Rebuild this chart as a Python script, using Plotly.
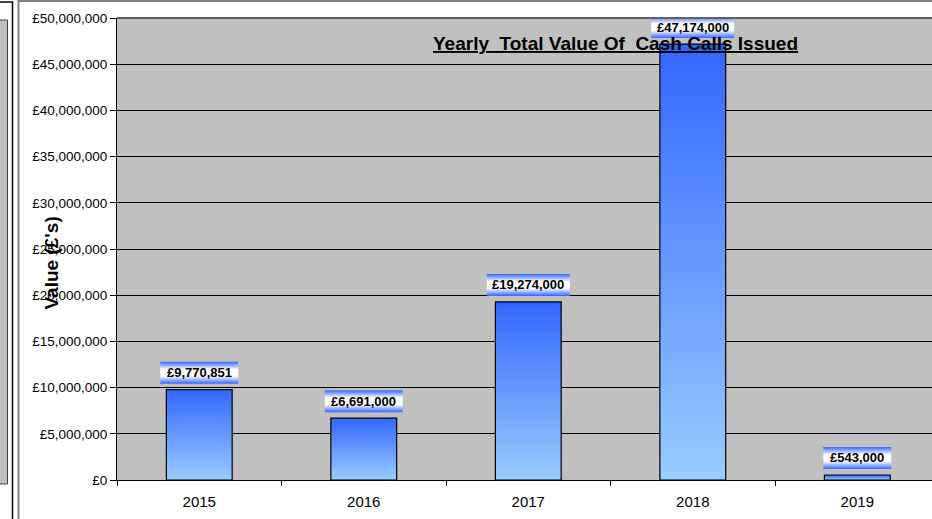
import plotly.graph_objects as go

years = ["2015", "2016", "2017", "2018", "2019"]
values = [9770851, 6691000, 19274000, 47174000, 543000]
labels = ["£9,770,851", "£6,691,000", "£19,274,000", "£47,174,000", "£543,000"]
title_text = "Yearly  Total Value Of  Cash Calls Issued"
y_title = "Value (£'s)"

W, H = 932, 519
ML, MR, MT, MB = 117, 0, 18, 39
PW, PH = W - ML - MR, H - MT - MB
YMAX = 50_000_000
XR = [-0.5, 4.454]
cat_px = PW / (XR[1] - XR[0])
unit_per_px = YMAX / PH

FONT = "Arial, Liberation Sans, sans-serif"

def px(x):
    return (x - ML) / PW

def py(y):
    return (H - MB - y) / PH

fig = go.Figure()

bar_half = 0.2
for i, v in enumerate(values):
    fig.add_trace(go.Scatter(
        x=[i - bar_half, i + bar_half, i + bar_half, i - bar_half, i - bar_half],
        y=[0, 0, v, v, 0],
        mode="lines", fill="toself",
        line=dict(color="black", width=1.2),
        fillgradient=dict(type="vertical",
                          colorscale=[[0, "#99CCFF"], [1, "#3366FF"]]),
        hoverinfo="skip", showlegend=False,
    ))

# label boxes
for i, (v, t) in enumerate(zip(values, labels)):
    wpx = 5 * len(t) + 28
    hw = wpx / 2 / cat_px
    b = v + 6 * unit_per_px
    top = b + 22 * unit_per_px
    fig.add_trace(go.Scatter(
        x=[i - hw, i + hw, i + hw, i - hw, i - hw],
        y=[b, b, top, top, b],
        mode="lines", fill="toself",
        line=dict(width=0, color="rgba(0,0,0,0)"),
        fillgradient=dict(type="vertical",
                          colorscale=[[0, "#3366FF"], [0.35, "#FFFFFF"],
                                      [0.65, "#FFFFFF"], [1, "#3366FF"]]),
        hoverinfo="skip", showlegend=False, cliponaxis=False,
    ))
    fig.add_annotation(x=i, y=(b + top) / 2, xref="x", yref="y",
                       text="<b>%s</b>" % t, showarrow=False,
                       font=dict(family=FONT, size=13, color="black"))

fig.add_annotation(x=px(615), y=py(31), xref="paper", yref="paper",
                   text="<b><u>%s</u></b>" % title_text, showarrow=False,
                   font=dict(family=FONT, size=19, color="black"))
fig.add_annotation(x=px(38), y=py(263), xref="paper", yref="paper",
                   text="<b>%s</b>" % y_title, showarrow=False, textangle=-90,
                   font=dict(family=FONT, size=19, color="black"))

shapes = [
    # left remnant chart
    dict(type="rect", xref="paper", yref="paper", x0=px(-10), x1=px(7.5),
         y0=py(484), y1=py(20), fillcolor="#C0C0C0",
         line=dict(color="#404040", width=1), layer="below"),
    dict(type="rect", xref="paper", yref="paper", x0=px(-10), x1=px(12.5),
         y0=py(530), y1=py(2), fillcolor="rgba(0,0,0,0)",
         line=dict(color="black", width=1.5)),
    # main frame
    dict(type="line", xref="paper", yref="paper", x0=px(18.5), x1=px(18.5),
         y0=py(0), y1=py(519), line=dict(color="#808080", width=2)),
    dict(type="line", xref="paper", yref="paper", x0=px(18), x1=px(940),
         y0=py(1), y1=py(1), line=dict(color="#808080", width=2)),
    # plot area top border
    dict(type="line", xref="paper", yref="paper", x0=0, x1=1.02,
         y0=1, y1=1, line=dict(color="#606060", width=2)),
]

fig.update_layout(
    width=W, height=H,
    margin=dict(l=ML, r=MR, t=MT, b=MB, pad=0),
    paper_bgcolor="white", plot_bgcolor="#C0C0C0",
    font=dict(family=FONT, size=12, color="black"),
    shapes=shapes, showlegend=False,
    xaxis=dict(range=XR, tickvals=list(range(len(years))), ticktext=years,
               ticks="", showgrid=False, zeroline=False,
               showline=True, linecolor="black", linewidth=1,
               tickfont=dict(size=15), ticklabelstandoff=8,
               minor=dict(tick0=0.5, dtick=1, ticks="outside", ticklen=5,
                          tickcolor="black", showgrid=False)),
    yaxis=dict(range=[0, YMAX], dtick=5_000_000, tickformat=",.0f",
               tickprefix="£", showgrid=True, gridcolor="black", gridwidth=1,
               zeroline=False, showline=True, linecolor="black", linewidth=1,
               ticks="outside", ticklen=6, tickcolor="black",
               tickfont=dict(size=13.5)),
)

fig.write_html("out.html", config={"displayModeBar": False},
               post_script="document.body.style.margin='0';")
